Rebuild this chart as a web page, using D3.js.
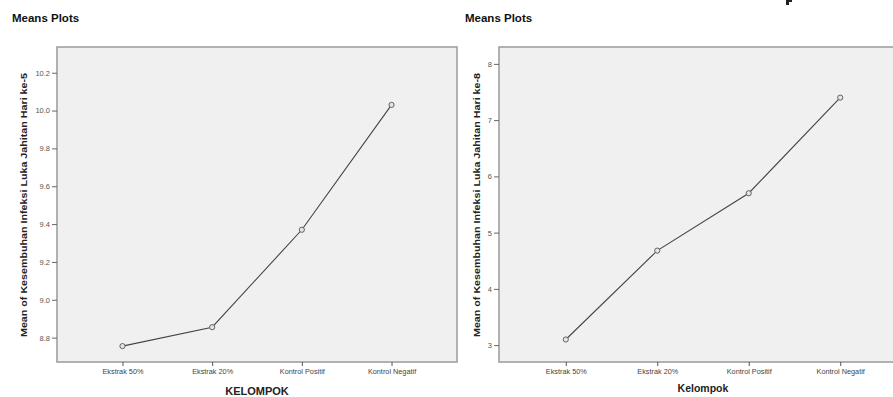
<!DOCTYPE html>
<html>
<head>
<meta charset="utf-8">
<script src="https://cdn.jsdelivr.net/npm/d3@7"></script>
<style>
  html, body { margin: 0; padding: 0; background: #fff; }
  svg { display: block; font-family: "Liberation Sans", Arial, sans-serif; }
</style>
</head>
<body>
<svg id="chart" width="893" height="397"></svg>
<script>
// ---- data ----
const categories = ["Ekstrak 50%", "Ekstrak 20%", "Kontrol Positif", "Kontrol Negatif"];
const day5Means = [8.755, 8.855, 9.37, 10.03];
const day8Means = [3.10, 4.68, 5.70, 7.40];
const day5Ticks = [8.8, 9.0, 9.2, 9.4, 9.6, 9.8, 10.0, 10.2];
const day8Ticks = [3, 4, 5, 6, 7, 8];
const panelTitle = "Means Plots";
const day5YLabel = "Mean of Kesembuhan Infeksi Luka Jahitan Hari ke-5";
const day8YLabel = "Mean of Kesembuhan Infeksi Luka Jahitan Hari ke-8";
const day5XLabel = "KELOMPOK";
const day8XLabel = "Kelompok";

const svg = d3.select("#chart");

function panel(opts) {
  const { left, right, top, bottom, domain, values, ticks, fmt, yLabel, titleX, yLabelX } = opts;
  const g = svg.append("g");

  g.append("text").attr("x", titleX).attr("y", 22)
    .attr("font-size", 11.5).attr("font-weight", "bold").attr("fill", "#111")
    .text(panelTitle);

  const x = d3.scalePoint().domain(categories).range([left, right]).padding(0.73);
  const y = d3.scaleLinear().domain(domain).range([bottom, top]);

  g.append("rect").attr("x", left).attr("y", top)
    .attr("width", right - left).attr("height", bottom - top)
    .attr("fill", "#f0f0f0").attr("stroke", "#a0a0a0").attr("stroke-width", 1.6);

  const yAxis = g.append("g").attr("transform", `translate(${left},0)`)
    .call(d3.axisLeft(y).tickValues(ticks).tickFormat(fmt).tickSize(5).tickPadding(2));
  yAxis.select(".domain").remove();
  yAxis.selectAll("line").attr("stroke", "#666");
  yAxis.selectAll("text").attr("font-size", 7.5).attr("fill", "#555")
    .attr("font-family", "'Liberation Sans', Arial, sans-serif");

  const xAxis = g.append("g").attr("transform", `translate(0,${bottom})`)
    .call(d3.axisBottom(x).tickSize(4).tickPadding(3));
  xAxis.select(".domain").remove();
  xAxis.selectAll("line").attr("stroke", "#555");
  xAxis.selectAll("text").attr("font-size", 7.3).attr("fill", "#444")
    .attr("font-family", "'Liberation Sans', Arial, sans-serif");

  const pts = categories.map((c, i) => [x(c), y(values[i])]);
  g.append("path").attr("d", d3.line()(pts))
    .attr("fill", "none").attr("stroke", "#444").attr("stroke-width", 1.1);
  g.selectAll("circle.pt").data(pts).join("circle")
    .attr("cx", d => d[0]).attr("cy", d => d[1]).attr("r", 2.6)
    .attr("fill", "#e4e4e4").attr("stroke", "#555").attr("stroke-width", 0.9);

  const cy = (top + bottom) / 2;
  g.append("text")
    .attr("transform", `translate(${yLabelX},${cy + 0.5}) rotate(-90)`)
    .attr("text-anchor", "middle").attr("font-size", 9.6).attr("font-weight", "bold")
    .attr("fill", "#222").attr("textLength", 264).attr("lengthAdjust", "spacingAndGlyphs")
    .text(yLabel);

  return { x, y };
}

panel({
  left: 57, right: 457, top: 47, bottom: 362,
  domain: [8.671, 10.336], values: day5Means, ticks: day5Ticks, fmt: d3.format(".1f"),
  yLabel: day5YLabel, titleX: 12, yLabelX: 27
});
svg.append("text").attr("x", 257).attr("y", 395).attr("text-anchor", "middle")
  .attr("font-size", 11).attr("font-weight", "bold").attr("fill", "#222").text(day5XLabel);

panel({
  left: 499, right: 907, top: 47, bottom: 362,
  domain: [2.70, 8.30], values: day8Means, ticks: day8Ticks, fmt: d3.format("d"),
  yLabel: day8YLabel, titleX: 465, yLabelX: 480
});
svg.append("text").attr("x", 703).attr("y", 392).attr("text-anchor", "middle")
  .attr("font-size", 10.5).attr("font-weight", "bold").attr("fill", "#222").text(day8XLabel);

// cropped glyph fragment (descender) at the top edge of the source image
svg.append("path")
  .attr("d", "M786,0 h3 v5 h-3 Z M789,0 h3 v2 h-3 Z")
  .attr("fill", "#222");
</script>
</body>
</html>
